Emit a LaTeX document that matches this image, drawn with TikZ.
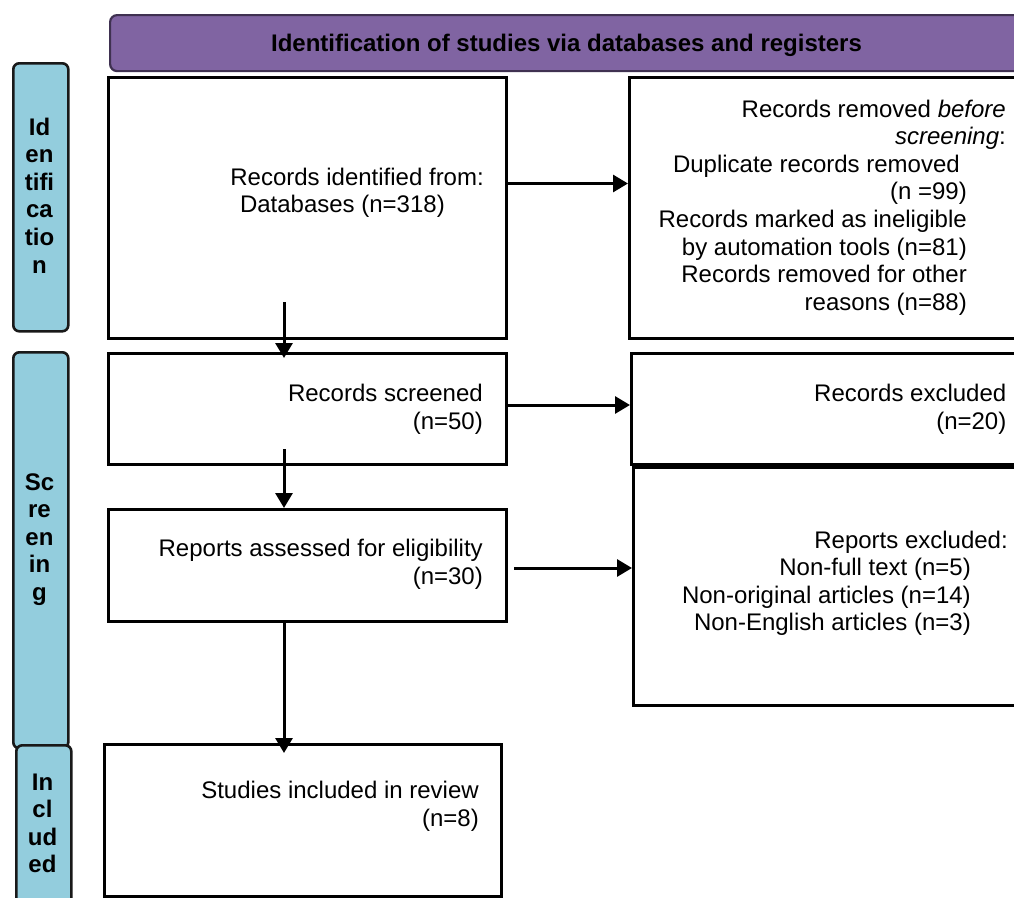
\documentclass[tikz,border=0pt]{standalone}
\usepackage{fontspec}
\setmainfont{Liberation Sans}
\usetikzlibrary{arrows.meta}
\definecolor{hdrfill}{HTML}{8064A2}
\definecolor{hdrline}{HTML}{3F3151}
\definecolor{sidefill}{HTML}{93CDDD}
\newcommand\gapR[1]{\hbox to #1{}}
\begin{document}
\begin{tikzpicture}[x=1pt,y=-1pt,
  box/.style={draw=black, line width=3.1pt, rectangle, inner sep=0pt, anchor=north west},
  sidebox/.style={draw=black!90, fill=sidefill, line width=2.6pt, rounded corners=6pt, rectangle, inner sep=0pt, anchor=north west},
  hdrbox/.style={draw=hdrline, fill=hdrfill, line width=2.2pt, rounded corners=7pt, rectangle, inner sep=0pt, anchor=north west},
  txt/.style={font=\fontsize{24pt}{27.6pt}\selectfont, inner sep=0pt, align=right, anchor=base east},
  sidetxt/.style={font=\fontsize{24pt}{27.6pt}\selectfont\bfseries, inner sep=0pt, align=center, anchor=base},
  arr/.style={line width=3pt, -{Triangle[length=15pt,width=17pt]}}
]
\clip (0,0) rectangle (1014,897);
\fill[white] (0,0) rectangle (1014,897);

% header
\node[hdrbox, minimum width=960pt, minimum height=56pt] (hdr) at (109,14) {};
\node[font=\fontsize{24pt}{27.6pt}\selectfont\bfseries, inner sep=0pt, anchor=base] (hdrt) at (566.5,51.5) {Identification of studies via databases and registers};

% side boxes
\node[sidebox, minimum width=55pt, minimum height=268pt] (sid) at (12,62) {};
\node[sidebox, minimum width=55pt, minimum height=396pt] (ssc) at (12,351) {};
\node[sidebox, minimum width=55pt, minimum height=200pt] (sin) at (15,744) {};
% (anchor base = baseline of the last line)
\node[sidetxt] (sidt) at (39.5,273) {Id\\en\\tifi\\ca\\tio\\n};
\node[sidetxt] (ssct) at (39.5,600.4) {Sc\\re\\en\\in\\g};
\node[sidetxt] (sint) at (42.5,872.8) {In\\cl\\ud\\ed};

% main boxes
\node[box, minimum width=398pt, minimum height=261pt] (b1) at (107,76) {};
\node[box, minimum width=420pt, minimum height=261pt] (rem) at (628,76) {};
\node[box, minimum width=398pt, minimum height=111pt] (b2) at (107,352) {};
\node[box, minimum width=420pt, minimum height=111pt] (exc) at (630,352) {};
\node[box, minimum width=398pt, minimum height=112pt] (b3) at (107,508) {};
\node[box, minimum width=420pt, minimum height=238pt] (rex) at (632,466) {};
\node[box, minimum width=397pt, minimum height=152pt] (b4) at (103,743) {};

% texts (anchor base = baseline of the last line)
\node[txt] (b1t) at (484,212.6) {Records identified from:\\Databases (n=318)\gapR{39pt}};
\node[txt] (remt) at (1006,310.2) {Records removed \textit{before}\\\textit{screening}:\\Duplicate records removed\gapR{46pt}\\(n =99)\gapR{39pt}\\Records marked as ineligible\gapR{39pt}\\by automation tools (n=81)\gapR{39pt}\\Records removed for other\gapR{39pt}\\reasons (n=88)\gapR{39pt}};
\node[txt] (b2t) at (483,429.1) {Records screened\\(n=50)};
\node[txt] (exct) at (1006.5,429.1) {Records excluded\\(n=20)};
\node[txt] (b3t) at (483,584.1) {Reports assessed for eligibility\\(n=30)};
\node[txt] (rext) at (1008,630.8) {Reports excluded:\\Non-full text (n=5)\gapR{37pt}\\Non-original articles (n=14)\gapR{37pt}\\Non-English articles (n=3)\gapR{37pt}};
\node[txt] (b4t) at (479,826.1) {Studies included in review\\(n=8)};

% connectors
\coordinate (s12) at (284,302);
\coordinate (s23) at (284,449);
\draw[arr] (b1.east |- 0,183.5) -- (rem.west |- 0,183.5);
\draw[arr] (b2.east |- 0,405) -- (exc.west |- 0,405);
\draw[arr] ([xshift=6pt]b3.east |- 0,568) -- (rex.west |- 0,568);
\draw[arr] (s12) -- ([yshift=-6pt]b2.north -| s12);
\draw[arr] (s23) -- (b3.north -| s23);
\draw[arr] (b3.south -| s23) -- ([yshift=-10pt]b4.north -| s23);
\end{tikzpicture}
\end{document}
